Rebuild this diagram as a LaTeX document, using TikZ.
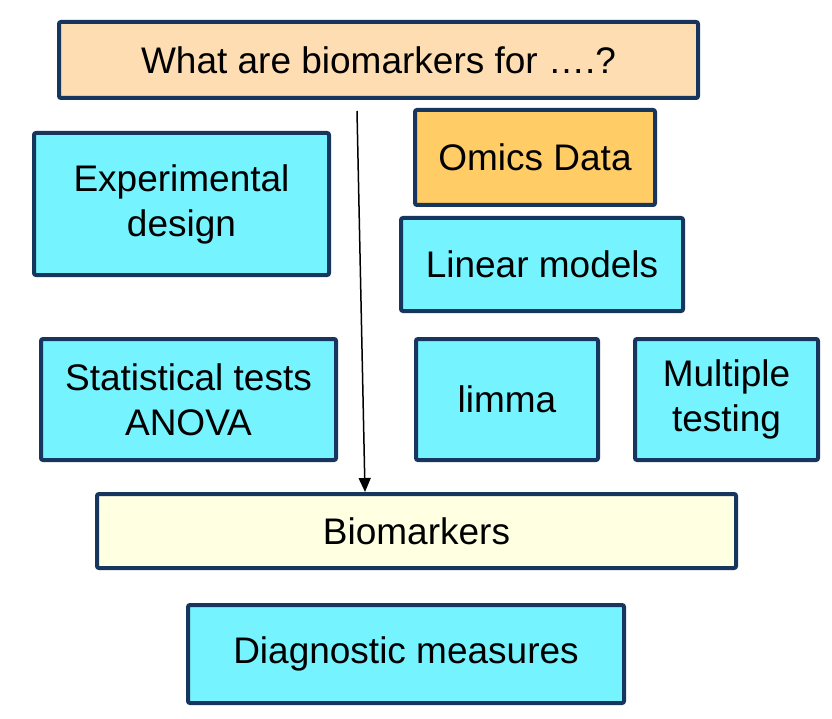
\documentclass[tikz,border=0pt]{standalone}
\usepackage{fontspec}
\setmainfont{Liberation Sans}
\usetikzlibrary{arrows.meta}
\definecolor{navy}{HTML}{17365D}
\definecolor{peach}{HTML}{FDDDB1}
\definecolor{omics}{HTML}{FFCC66}
\definecolor{cyanbox}{HTML}{75F3FF}
\definecolor{lightyel}{HTML}{FFFFE1}
\tikzset{
  box/.style={draw=navy, line width=4pt, rounded corners=2pt, fill=cyanbox, align=center,
    font=\fontsize{37}{45}\selectfont, inner sep=0pt},
}
\begin{document}
\begin{tikzpicture}[x=1pt,y=-1pt]
\useasboundingbox (0,0) rectangle (832,719);
\node[box,fill=peach,minimum width=639,minimum height=76] (q) at (378.5,60) {What are biomarkers for ….?};
\node[box,fill=omics,minimum width=240,minimum height=95] (om) at (535,157.5) {Omics Data};
\node[box,minimum width=295,minimum height=142] (ed) at (181.5,204) {Experimental\\design};
\node[box,minimum width=282,minimum height=93] (lm) at (542,264.5) {Linear models};
\node[box,minimum width=295,minimum height=121] (st) at (188.5,399.5) {Statistical tests\\ANOVA};
\node[box,minimum width=182,minimum height=121] (li) at (507,399.5) {limma};
\node[box,minimum width=183,minimum height=121] (mt) at (726.5,399.5) {Multiple\\testing};
\node[box,fill=lightyel,minimum width=639,minimum height=74] (bm) at (416.5,531) {Biomarkers};
\node[box,minimum width=436,minimum height=98] (dm) at (406,654) {Diagnostic measures};
\coordinate (s) at (357,111);
\draw[line width=1.5pt,-{Triangle[length=14pt,width=12pt]}] (s) -- (bm.north -| 365,0);
\end{tikzpicture}
\end{document}
